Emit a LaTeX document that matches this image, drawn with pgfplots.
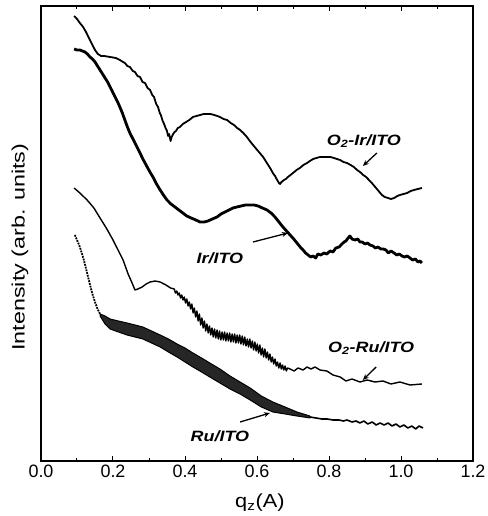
\documentclass[border=0pt]{standalone}
\usepackage{fontspec}
\setmainfont{Liberation Sans}
\usepackage{pgfplots}
\pgfplotsset{compat=1.18}
\usetikzlibrary{arrows.meta}

\begin{document}
\begin{tikzpicture}
\useasboundingbox (-41bp,-55bp) rectangle (447bp,461bp);
\begin{axis}[
  at={(0,0)}, anchor=south west,
  scale only axis, width=432bp, height=455bp,
  xmin=0, xmax=1.2, ymin=0, ymax=455,
  xtick={0,0.2,0.4,0.6,0.8,1.0,1.2},
  minor x tick num=1,
  ytick=\empty,
  tick align=inside,
  major tick length=5bp, minor tick length=3bp,
  every tick/.style={black, line width=1bp},
  axis line style={line width=1.6bp},
  /pgf/number format/assume math mode=true,
  xticklabel style={font=\fontsize{18}{20}\selectfont, /pgf/number format/fixed, /pgf/number format/fixed zerofill, /pgf/number format/precision=1},
  xlabel={\scalebox{1.15}[1]{q\textsubscript{z}(A)}},
  xlabel style={font=\fontsize{19}{21}\selectfont, at={(axis cs:0.608,0)}, anchor=center, yshift=-42bp},
  ylabel={\scalebox{1.3}[1]{Intensity (arb. units)}},
  ylabel style={font=\fontsize{18}{20}\selectfont, at={(axis description cs:-0.0486,0.47)}, anchor=center},
]
% O2-Ir/ITO
\addplot[black, line width=1.8bp, line join=round] coordinates {
(0.092,445)(0.100,442)(0.108,438)(0.117,434)(0.125,429)(0.136,421)(0.150,411)(0.158,407)(0.167,405)(0.175,405)(0.192,404)(0.208,403)(0.219,401)(0.228,399)(0.233,398)(0.240,395)(0.247,394)(0.255,390)(0.261,389)(0.268,385)(0.275,384)(0.282,379)(0.289,378)(0.296,373)(0.303,371)(0.309,366)(0.314,364)(0.320,357)(0.325,354)(0.330,348)(0.333,346)(0.338,340)(0.342,337)(0.346,333)(0.350,330)(0.353,325)(0.356,327)(0.360,320)(0.363,324)(0.367,327)(0.371,329)(0.375,330)(0.380,333)(0.386,334)(0.394,337)(0.403,339)(0.412,341)(0.422,344)(0.432,345)(0.442,346)(0.452,347)(0.461,347)(0.471,347)(0.481,346)(0.490,345)(0.497,344)(0.507,342)(0.517,341)(0.527,338)(0.536,336)(0.545,333)(0.553,331)(0.562,328)(0.572,324)(0.580,320)(0.589,316)(0.596,313)(0.603,310)(0.610,307)(0.617,304)(0.624,300)(0.631,296)(0.638,292)(0.644,288)(0.650,285)(0.656,281)(0.661,278)(0.664,277)(0.668,279)(0.675,281)(0.680,282)(0.686,284)(0.693,286)(0.700,288)(0.710,291)(0.719,293)(0.729,296)(0.739,298)(0.747,300)(0.756,302)(0.765,303)(0.775,304)(0.785,304)(0.794,304)(0.804,304)(0.814,303)(0.822,302)(0.831,301)(0.840,299)(0.850,298)(0.860,296)(0.869,294)(0.878,291)(0.886,289)(0.895,286)(0.903,284)(0.911,281)(0.919,278)(0.926,275)(0.933,272)(0.940,269)(0.947,266)(0.955,264)(0.964,263)(0.972,262)(0.981,263)(0.990,265)(0.997,266)(1.007,267)(1.017,268)(1.027,270)(1.036,271)(1.047,272)(1.058,273)
};
% Ir/ITO
\addplot[black, line width=2.8bp, line join=round] coordinates {
(0.092,412)(0.100,411)(0.108,411)(0.115,410)(0.122,409)(0.129,407)(0.136,404)(0.143,402)(0.150,399)(0.157,395)(0.164,391)(0.171,387)(0.178,383)(0.185,379)(0.192,374)(0.199,369)(0.206,364)(0.213,359)(0.219,354)(0.226,348)(0.233,341)(0.240,334)(0.247,328)(0.254,323)(0.261,318)(0.268,313)(0.275,308)(0.283,302)(0.292,296)(0.301,290)(0.311,284)(0.321,277)(0.331,271)(0.340,266)(0.350,261)(0.361,257)(0.372,254)(0.383,251)(0.394,248)(0.405,245)(0.417,243)(0.430,241)(0.442,239)(0.453,239)(0.464,240)(0.476,242)(0.489,244)(0.500,247)(0.511,249)(0.522,251)(0.533,253)(0.544,254)(0.556,255)(0.568,256)(0.581,256)(0.592,256)(0.603,255)(0.615,253)(0.628,251)(0.639,248)(0.650,244)(0.661,239)(0.672,234)(0.682,230)(0.692,226)(0.702,222)(0.711,218)(0.720,214)(0.728,211)(0.735,208)(0.742,206)(0.749,204)(0.756,205)(0.763,203)(0.769,207)(0.777,206)(0.786,208)(0.794,207)(0.803,210)(0.811,209)(0.819,213)(0.828,214)(0.836,217)(0.842,219)(0.847,220)(0.853,223)(0.858,225)(0.864,222)(0.872,221)(0.880,222)(0.886,219)(0.892,219)(0.900,217)(0.907,218)(0.914,216)(0.922,215)(0.929,213)(0.936,214)(0.944,212)(0.951,212)(0.958,211)(0.965,208)(0.972,210)(0.981,208)(0.988,206)(0.995,207)(1.003,205)(1.010,204)(1.017,205)(1.025,203)(1.032,201)(1.040,202)(1.047,199)(1.053,200)(1.058,198)
};
% O2-Ru/ITO
\addplot[black, line width=1.4bp, line join=round] coordinates {
(0.092,273)(0.108,268)(0.128,261)(0.147,253)(0.164,243)(0.183,232)(0.200,221)(0.214,211)(0.228,201)(0.242,187)(0.253,178)(0.261,171)(0.269,172)(0.281,174)(0.292,177)(0.303,179)(0.317,180)(0.331,179)(0.347,176)(0.360,173)
(0.370,172)(0.3735,168)(0.377,170)(0.3805,166)(0.384,168)(0.3875,163)(0.391,166)(0.3945,161)(0.398,164)(0.4015,158)(0.405,162)(0.4085,155)(0.412,159)(0.4155,152)(0.419,157)(0.4225,148)(0.426,153)(0.4295,144)(0.433,150)(0.4365,140)(0.440,147)(0.4435,136)(0.447,143)(0.4505,133)(0.454,140)(0.4575,130)(0.461,137)(0.4645,128)(0.468,135)(0.4715,126)(0.475,133)(0.4785,124)(0.482,132)(0.4855,123)(0.489,131)(0.4925,122)(0.496,130)(0.4995,121)(0.503,129)(0.5065,121)(0.510,129)(0.5135,120)(0.517,128)(0.5205,120)(0.524,128)(0.5275,119)(0.531,127)(0.5345,119)(0.538,127)(0.5415,118)(0.545,126)(0.5485,118)(0.552,126)(0.5555,117)(0.559,125)(0.5625,116)(0.566,124)(0.5695,115)(0.573,122)(0.5765,114)(0.580,122)(0.5835,113)(0.587,120)(0.5905,111)(0.594,119)(0.5975,110)(0.601,117)(0.6045,108)(0.608,116)(0.6115,106)(0.615,113)(0.6185,104)(0.622,112)(0.6255,103)(0.629,109)(0.6325,101)(0.636,107)(0.6395,99)(0.643,104)(0.6465,97)(0.650,102)(0.6535,95)(0.657,99)(0.6605,93)(0.664,98)(0.6675,92)(0.671,96)(0.6745,91)(0.678,95)(0.6815,90)(0.685,93)
(0.692,92)(0.703,90)(0.714,93)(0.728,91)(0.739,94)(0.750,92)(0.761,94)(0.775,91)(0.794,90)(0.811,86)(0.831,84)(0.847,80)(0.864,82)(0.886,79)(0.906,81)(0.928,79)(0.950,80)(0.972,77)(0.997,79)(1.025,76)(1.058,77)
};
% Ru/ITO start (dotted)
\addplot[black, line width=1.8bp, densely dotted] coordinates {
(0.094,226)(0.100,221)(0.108,214)(0.114,207)(0.119,201)(0.124,194)(0.128,188)(0.135,178)(0.142,168)(0.149,160)(0.156,153)(0.164,147)
};
% Ru/ITO band
\addplot[black, line width=1bp, fill=black!85, line join=round] coordinates {
(0.164,147)(0.178,145)(0.192,142)(0.215,140)(0.239,138)(0.261,136)(0.283,134)(0.307,130)(0.331,126)(0.354,122)(0.378,117)(0.400,113)(0.422,108)(0.446,103)(0.469,98)(0.497,92)(0.525,85)(0.553,79)(0.581,73)(0.612,65)(0.644,59)(0.678,54)(0.711,49)(0.747,45)
(0.747,43)(0.711,45)(0.678,47)(0.644,49)(0.612,54)(0.581,61)(0.553,67)(0.525,72)(0.497,78)(0.469,84)(0.446,89)(0.422,94)(0.400,99)(0.378,104)(0.354,109)(0.331,114)(0.307,118)(0.283,122)(0.261,124)(0.239,126)(0.215,129)(0.192,132)(0.178,137)(0.164,145)
} -- cycle;
% Ru/ITO tail
\addplot[black, line width=1.6bp, line join=round] coordinates {
(0.747,44)(0.764,43)(0.780,42)(0.795,42)(0.811,41)(0.828,41)(0.840,40)(0.850,41)(0.864,39)(0.875,40)(0.886,38)(0.897,40)(0.908,37)(0.920,39)(0.931,36)(0.942,38)(0.953,36)(0.964,38)(0.975,35)(0.986,37)(0.997,34)(1.008,36)(1.019,33)(1.030,35)(1.041,32)(1.050,35)(1.061,33)
};
% labels and arrows
\node[font=\fontsize{15}{17}\selectfont\bfseries\itshape] at (axis cs:0.897,320) {\scalebox{1.2}[1]{O\textsubscript{2}-Ir/ITO}};
\draw[line width=1.3bp, -{Stealth[length=6bp,width=5bp]}] (axis cs:0.933,308) -- (axis cs:0.894,295);
\node[font=\fontsize{15}{17}\selectfont\bfseries\itshape] at (axis cs:0.497,203) {\scalebox{1.2}[1]{Ir/ITO}};
\draw[line width=1.3bp, -{Stealth[length=6bp,width=5bp]}] (axis cs:0.589,219) -- (axis cs:0.686,228);
\node[font=\fontsize{15}{17}\selectfont\bfseries\itshape] at (axis cs:0.917,113) {\scalebox{1.2}[1]{O\textsubscript{2}-Ru/ITO}};
\draw[line width=1.3bp, -{Stealth[length=6bp,width=5bp]}] (axis cs:0.931,94) -- (axis cs:0.894,81);
\node[font=\fontsize{15}{17}\selectfont\bfseries\itshape] at (axis cs:0.497,25) {\scalebox{1.2}[1]{Ru/ITO}};
\draw[line width=1.3bp, -{Stealth[length=6bp,width=5bp]}] (axis cs:0.553,39) -- (axis cs:0.636,48);
\end{axis}
\end{tikzpicture}
\end{document}
